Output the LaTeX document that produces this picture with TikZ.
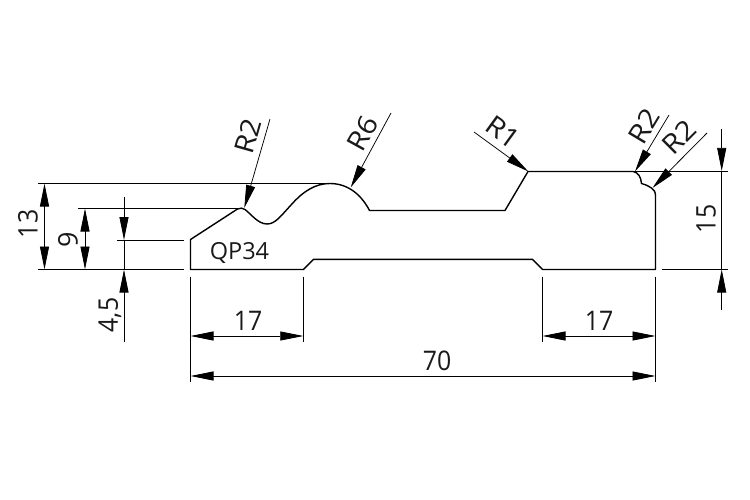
\documentclass[tikz,border=0pt]{standalone}
\usepackage{fontspec}
\setmainfont{Open Sans}
\usetikzlibrary{arrows.meta}
\newcommand{\narrowtxt}[1]{\scalebox{0.92}[1]{#1}}
\newcommand{\widetxt}[1]{\scalebox{1.1}[1]{#1}}
\tikzset{
  x=1pt,y=-1pt,
  profile/.style={draw=black,line width=1.4pt,line join=round},
  dimline/.style={draw=black,line width=0.75pt},
  tipped/.style={dimline,-{Triangle[length=23pt,width=9pt]},shorten >=0pt},
  bothtip/.style={dimline,{Triangle[length=23pt,width=9pt]}-{Triangle[length=23pt,width=9pt]}},
  lbl/.style={inner sep=0pt,font=\fontsize{27}{27}\selectfont,text=black!90},
  small/.style={inner sep=0pt,font=\fontsize{23.5}{24}\selectfont,text=black!90}
}
\begin{document}
\begin{tikzpicture}
\useasboundingbox (0,0) rectangle (750,500);
% profile
\draw[profile] (190.5,269.5) -- (190.5,239.5) -- (237.5,209)
  .. controls (240,207.8) and (243,207.8) .. (245,209.5)
  .. controls (251,214) and (258,224) .. (267,224)
  .. controls (275,224) and (280,217) .. (291,205)
  .. controls (303,191.5) and (315,183.5) .. (330,183.5)
  .. controls (349,183.5) and (362,196) .. (369.5,210.5)
  -- (505,210.5) -- (528,171.5) -- (633,171.5)
  .. controls (638,172) and (641,177) .. (641.5,183.5)
  .. controls (645,184) and (648,186) .. (651.5,188)
  .. controls (654,189.5) and (655.5,192) .. (655.5,196)
  -- (655.5,269.5) -- (542.5,269.5) -- (532.5,259.3) -- (313.5,259.3) -- (303.3,269.5) -- cycle;
% named coordinates
\coordinate (t13a) at (38,183.5);  \coordinate (t13b) at (328,183.5);
\coordinate (b13a) at (38,269.5);  \coordinate (b13b) at (184,269.5);
\coordinate (t9a) at (78,208.5);   \coordinate (t9b) at (240,208.5);
\coordinate (t45a) at (117,240);   \coordinate (t45b) at (184,240);
\coordinate (d13a) at (44.5,183.5);\coordinate (d13b) at (44.5,269.5);
\coordinate (d9a) at (85,208.5);   \coordinate (d9b) at (85,269.5);
\coordinate (d45s) at (124,197);   \coordinate (d45t) at (124,240);
\coordinate (d45u) at (124,342);   \coordinate (d45v) at (124,269.5);
\coordinate (e1a) at (190.5,276.5);\coordinate (e1b) at (190.5,382);
\coordinate (e2a) at (303.3,276.5);\coordinate (e2b) at (303.3,342);
\coordinate (e3a) at (542.5,276.5);\coordinate (e3b) at (542.5,342);
\coordinate (e4a) at (655.5,276.5);\coordinate (e4b) at (655.5,382);
\coordinate (a1) at (190.5,336);   \coordinate (a2) at (303.3,336);
\coordinate (a3) at (542.5,336);   \coordinate (a4) at (655.5,336);
\coordinate (a5) at (190.5,376);   \coordinate (a6) at (655.5,376);
\coordinate (r15a) at (633,171);   \coordinate (r15b) at (728,171);
\coordinate (b15a) at (662,269.5); \coordinate (b15b) at (728,269.5);
\coordinate (d15s) at (721.7,129); \coordinate (d15t) at (721.7,171);
\coordinate (d15u) at (721.7,310); \coordinate (d15v) at (721.7,269.5);
% leaders
\coordinate (l1s) at (270,119);  \coordinate (l1t) at (244.3,208);
\coordinate (l2s) at (391,113);  \coordinate (l2t) at (350.7,187.5);
\coordinate (l3s) at (474,132);  \coordinate (l3t) at (528.3,171.5);
\coordinate (l4s) at (669,115);  \coordinate (l4t) at (635,171.5);
\coordinate (l5s) at (707,133);  \coordinate (l5t) at (652.5,188);
% extension lines
\draw[dimline] (t13a) -- (t13b);
\draw[dimline] (b13a) -- (b13b);
\draw[dimline] (t9a) -- (t9b);
\draw[dimline] (t45a) -- (t45b);
\draw[dimline] (e1a) -- (e1b);
\draw[dimline] (e2a) -- (e2b);
\draw[dimline] (e3a) -- (e3b);
\draw[dimline] (e4a) -- (e4b);
\draw[dimline] (r15a) -- (r15b);
\draw[dimline] (b15a) -- (b15b);
% dimension lines
\draw[bothtip] (d13a) -- (d13b);
\draw[bothtip] (d9a) -- (d9b);
\draw[tipped] (d45s) -- (d45t);
\draw[dimline] (d45t) -- (d45v);
\draw[tipped] (d45u) -- (d45v);
\draw[bothtip] (a1) -- (a2);
\draw[bothtip] (a3) -- (a4);
\draw[bothtip] (a5) -- (a6);
\draw[tipped] (d15s) -- (d15t);
\draw[dimline] (d15t) -- (d15v);
\draw[tipped] (d15u) -- (d15v);
\draw[tipped] (l1s) -- (l1t);
\draw[tipped] (l2s) -- (l2t);
\draw[tipped] (l3s) -- (l3t);
\draw[tipped] (l4s) -- (l4t);
\draw[tipped] (l5s) -- (l5t);
% labels
\node[lbl,rotate=90] (n13) at (28,224) {\narrowtxt{13}};
\node[lbl,rotate=90] (n9) at (68,240) {9};
\node[lbl,rotate=90] (n45) at (110,315) {\narrowtxt{4,5}};
\node[lbl] (n17a) at (248,321) {\narrowtxt{17}};
\node[lbl] (n17b) at (599,321) {\narrowtxt{17}};
\node[lbl] (n70) at (437,361) {\narrowtxt{70}};
\node[lbl,rotate=90] (n15) at (706,219) {\narrowtxt{15}};
\node[small] (qp) at (239.5,253) {QP34};
\node[lbl,rotate=74] (r2a) at (247.5,136) {\widetxt{R2}};
\node[lbl,rotate=61] (r6) at (363,133) {\widetxt{R6}};
\node[lbl,rotate=-36] (r1) at (503,132) {\widetxt{R1}};
\node[lbl,rotate=59] (r2b) at (644,126) {\widetxt{R2}};
\node[lbl,rotate=45] (r2c) at (679,137) {\widetxt{R2}};
\end{tikzpicture}
\end{document}
